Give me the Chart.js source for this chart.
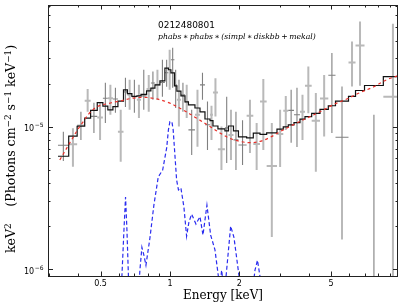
<!DOCTYPE html>
<html><head><meta charset="utf-8">
<script src="https://cdn.jsdelivr.net/npm/chart.js@4.4.1/dist/chart.umd.min.js"></script>
<style>html,body{margin:0;padding:0;background:#fff;}</style>
</head><body>
<canvas id="c" width="407" height="307"></canvas>
<script>
// ---- data (energy in keV, flux in keV^2 Photons cm^-2 s^-1 keV^-1) ----
const binEdges = [0.327,0.364,0.396,0.427,0.453,0.484,0.512,0.538,0.566,0.595,0.629,0.654,0.684,0.719,0.749,0.792,0.827,0.861,0.905,0.951,0.985,1.010,1.046,1.072,1.116,1.162,1.203,1.284,1.350,1.419,1.492,1.537,1.615,1.732,1.794,1.886,1.982,2.151,2.299,2.458,2.627,2.912,3.101,3.260,3.451,3.664,3.852,4.118,4.475,4.862,5.224,5.948,6.380,6.979,8.422,10.2];
const modelFlux = [6.20e-6,8.57e-6,1.006e-5,1.145e-5,1.30e-5,1.47e-5,1.39e-5,1.31e-5,1.38e-5,1.51e-5,1.81e-5,1.70e-5,1.63e-5,1.64e-5,1.68e-5,1.78e-5,1.86e-5,1.96e-5,2.09e-5,2.57e-5,2.50e-5,2.38e-5,1.93e-5,1.77e-5,1.64e-5,1.49e-5,1.42e-5,1.35e-5,1.27e-5,1.13e-5,1.10e-5,1.01e-5,9.64e-6,9.33e-6,1.01e-5,9.33e-6,8.47e-6,8.33e-6,8.99e-6,8.82e-6,9.03e-6,9.59e-6,9.95e-6,1.028e-5,1.067e-5,1.127e-5,1.175e-5,1.238e-5,1.32e-5,1.40e-5,1.51e-5,1.63e-5,1.79e-5,1.94e-5,2.24e-5];
const pointFlux = [7.41e-6,7.53e-6,1.02e-5,1.52e-5,1.18e-5,1.16e-5,1.58e-5,1.58e-5,1.56e-5,9.22e-6,1.75e-5,1.67e-5,1.62e-5,1.54e-5,1.64e-5,1.83e-5,2.02e-5,1.96e-5,2.04e-5,2.38e-5,2.50e-5,2.94e-5,1.96e-5,1.54e-5,1.67e-5,1.49e-5,9.48e-6,1.21e-5,1.96e-5,1.03e-5,1.21e-5,1.73e-5,6.94e-6,9.79e-6,8.75e-6,8.07e-6,7.44e-6,1.19e-5,7.56e-6,1.50e-5,5.30e-6,8.89e-6,1.29e-5,1.30e-5,1.21e-5,1.27e-5,1.93e-5,1.10e-5,1.57e-5,2.29e-5,8.43e-6,2.81e-5,3.70e-5,6.0e-7,1.62e-5];
const pointHigh = [9.22e-6,9.74e-6,1.27e-5,1.83e-5,1.47e-5,1.47e-5,2.03e-5,1.96e-5,1.87e-5,1.31e-5,2.20e-5,2.13e-5,2.13e-5,1.96e-5,2.50e-5,2.30e-5,2.43e-5,2.50e-5,2.94e-5,2.94e-5,3.45e-5,3.56e-5,2.50e-5,2.13e-5,2.03e-5,1.96e-5,1.31e-5,1.81e-5,2.38e-5,1.50e-5,1.40e-5,2.18e-5,1.00e-5,1.62e-5,1.31e-5,1.27e-5,1.11e-5,1.54e-5,1.06e-5,2.15e-5,1.06e-5,1.31e-5,1.64e-5,1.81e-5,1.87e-5,1.67e-5,2.64e-5,1.72e-5,2.30e-5,3.27e-5,1.91e-5,3.95e-5,5.45e-5,1.21e-5,5.25e-5];
const pointLow = [5.75e-6,5.24e-6,8.07e-6,1.27e-5,9.03e-6,8.07e-6,1.06e-5,1.21e-5,1.25e-5,5.68e-6,1.37e-5,1.31e-5,1.25e-5,1.15e-5,1.31e-5,1.27e-5,1.54e-5,1.54e-5,1.62e-5,1.90e-5,1.81e-5,1.87e-5,1.35e-5,1.00e-5,1.27e-5,1.15e-5,6.33e-6,7.24e-6,1.54e-5,6.86e-6,8.07e-6,1.175e-5,4.97e-6,5.56e-6,5.84e-6,4.97e-6,5.38e-6,6.54e-6,4.97e-6,6.86e-6,1.69e-6,5.22e-6,9.48e-6,7.72e-6,7.21e-6,8.07e-6,1.24e-5,4.84e-6,8.51e-6,9.03e-6,1.62e-6,1.91e-5,1.93e-5,5e-7,5e-7];
const pointGroup = ['D','L','D','L','D','L','D','L','D','L','D','L','D','L','D','L','D','L','D','D','L','D','D','L','D','L','D','L','D','D','L','L','L','D','L','D','D','L','L','L','L','L','L','D','D','L','L','L','L','D','D','L','L','D','L'];
const diskE = [0.333,0.3745,0.414,0.473,0.559,0.607,0.682,0.764,0.844,0.968,1.139,1.306,1.492,1.648,1.821,2.012,2.224,2.458,2.716,3.001,3.417,3.918,4.475,5.095,5.843,6.674,7.597,8.712,10.0];
const diskF = [5.84e-6,8.07e-6,1.045e-5,1.35e-5,1.47e-5,1.51e-5,1.577e-5,1.603e-5,1.58e-5,1.49e-5,1.31e-5,1.145e-5,1.003e-5,9.03e-6,8.27e-6,7.88e-6,7.72e-6,7.88e-6,8.40e-6,9.22e-6,1.028e-5,1.145e-5,1.27e-5,1.42e-5,1.56e-5,1.73e-5,1.889e-5,2.13e-5,2.30e-5];
const mekalE = [0.610,0.619,0.632,0.642,0.651,0.661,0.667,0.730,0.741,0.756,0.771,0.787,0.819,0.852,0.890,0.930,0.968,0.985,1.000,1.020,1.033,1.051,1.069,1.089,1.116,1.150,1.181,1.209,1.242,1.297,1.350,1.391,1.447,1.502,1.568,1.624,1.640,1.676,1.715,1.750,1.834,1.895,1.953,2.002,2.022,2.269,2.338,2.397,2.458,2.481];
const mekalF = [7.16e-7,8.92e-7,1.89e-6,3.21e-6,1.89e-6,8.82e-7,6.6e-7,6.6e-7,9.89e-7,1.43e-6,1.26e-6,1.07e-6,1.66e-6,2.82e-6,4.44e-6,4.97e-6,7.09e-6,9.48e-6,1.084e-5,1.079e-5,9.48e-6,6.33e-6,4.23e-6,3.60e-6,3.72e-6,2.73e-6,1.71e-6,2.15e-6,2.44e-6,2.08e-6,2.34e-6,1.74e-6,2.82e-6,1.74e-6,1.37e-6,8.82e-7,7.16e-7,9.89e-7,7.16e-7,8.82e-7,2.01e-6,1.68e-6,1.16e-6,8.53e-7,6.6e-7,6.6e-7,9.89e-7,1.16e-6,8.92e-7,6.6e-7];
// ticks and texts
const xLabelTicks = [0.5, 1, 2, 5];
const xLabelText = ['0.5', '1', '2', '5'];
const xMinorTicks = [0.3,0.4,0.6,0.7,0.8,0.9,3,4,6,7,8,9];
const yLabelTicks = [1e-6, 1e-5];
const yLabelBase = ['10', '10'];
const yLabelExp = ['\u22126', '\u22125'];
const yMinorTicks = [2e-6,3e-6,4e-6,5e-6,6e-6,7e-6,8e-6,9e-6,2e-5,3e-5,4e-5,5e-5,6e-5,7e-5];
const obsId = '0212480801';
const modelName = 'phabs\u2009\u2217\u2009phabs\u2009\u2217\u2009(simpl\u2009\u2217\u2009diskbb\u2009+\u2009mekal)';
const xTitle = 'Energy [keV]';
// y title as runs: [text, isSuperscript]
const yTitleRuns = [['keV', 0], ['2', 1], ['\u2003 ', 0], ['(Photons cm', 0], ['\u22122', 1], [' s', 0], ['\u22121', 1], [' keV', 0], ['\u22121', 1], [')', 0]];

// ---- build datasets ----
const stepData = binEdges.map((e, i) => ({x: e, y: modelFlux[Math.min(i, modelFlux.length - 1)]}));
const diskData = diskE.map((e, i) => ({x: e, y: diskF[i]}));
const mekalData = mekalE.map((e, i) => ({x: e, y: mekalF[i]}));

const errorBars = {
  id: 'errorBars',
  beforeDatasetsDraw(chart) {
    const {ctx, chartArea: ca} = chart;
    const xs = chart.scales.x, ys = chart.scales.y;
    ctx.save();
    ctx.beginPath(); ctx.rect(ca.left, ca.top, ca.width, ca.height); ctx.clip();
    for (let i = 0; i < pointFlux.length; i++) {
      const light = pointGroup[i] === 'L';
      ctx.strokeStyle = light ? '#b9b9b9' : '#808080';
      ctx.lineWidth = light ? 2 : 1.1;
      const xl = xs.getPixelForValue(binEdges[i]);
      const xr = xs.getPixelForValue(binEdges[i + 1]);
      const xc = xs.getPixelForValue(Math.sqrt(binEdges[i] * binEdges[i + 1]));
      const yc = ys.getPixelForValue(pointFlux[i]);
      const yt = ys.getPixelForValue(pointHigh[i]);
      const yb = ys.getPixelForValue(pointLow[i]);
      ctx.beginPath();
      ctx.moveTo(xl, yc); ctx.lineTo(xr, yc);
      ctx.moveTo(xc, yt); ctx.lineTo(xc, yb);
      ctx.stroke();
    }
    ctx.restore();
  }
};

const frameTicks = {
  id: 'frameTicks',
  afterDraw(chart) {
    const {ctx, chartArea: ca} = chart;
    const xs = chart.scales.x, ys = chart.scales.y;
    ctx.save();
    ctx.strokeStyle = '#222';
    ctx.lineWidth = 1;
    ctx.beginPath();
    const tick = (vals, len, horiz) => {
      vals.forEach(v => {
        if (horiz) {
          const p = Math.round(xs.getPixelForValue(v)) + 0.5;
          ctx.moveTo(p, ca.bottom); ctx.lineTo(p, ca.bottom - len);
          ctx.moveTo(p, ca.top); ctx.lineTo(p, ca.top + len);
        } else {
          const p = Math.round(ys.getPixelForValue(v)) + 0.5;
          ctx.moveTo(ca.left, p); ctx.lineTo(ca.left + len, p);
          ctx.moveTo(ca.right, p); ctx.lineTo(ca.right - len, p);
        }
      });
    };
    tick(xLabelTicks, 4.5, true);
    tick(xMinorTicks, 2.5, true);
    tick(yLabelTicks, 5, false);
    tick(yMinorTicks, 2.5, false);
    ctx.stroke();
    ctx.strokeRect(Math.round(ca.left) + 0.5, Math.round(ca.top) + 0.5, Math.round(ca.width) - 1, Math.round(ca.height));

    ctx.fillStyle = '#000';
    // y tick labels: 10 with superscript exponent
    ctx.textBaseline = 'alphabetic';
    yLabelTicks.forEach((v, i) => {
      const p = ys.getPixelForValue(v);
      ctx.font = '6px "DejaVu Sans"';
      const we = ctx.measureText(yLabelExp[i]).width;
      ctx.textAlign = 'right';
      ctx.fillText(yLabelExp[i], ca.left - 4.5, p + 0.5);
      ctx.font = '8px "DejaVu Sans"';
      ctx.fillText(yLabelBase[i], ca.left - 4.5 - we - 0.5, p + 4.3);
    });

    // y axis title (rotated, mixed sizes)
    ctx.save();
    ctx.translate(11, 149);
    ctx.rotate(-Math.PI / 2);
    const base = 12.6, sup = 8.8;
    let total = 0;
    yTitleRuns.forEach(([t, s]) => { ctx.font = (s ? sup : base) + 'px "DejaVu Serif"'; total += ctx.measureText(t).width; });
    let xpos = -total / 2;
    ctx.textAlign = 'left';
    ctx.textBaseline = 'alphabetic';
    yTitleRuns.forEach(([t, s]) => {
      ctx.font = (s ? sup : base) + 'px "DejaVu Serif"';
      ctx.fillText(t, xpos, s ? -0.5 : 4.3);
      xpos += ctx.measureText(t).width;
    });
    ctx.restore();

    // annotations inside the plot
    ctx.textAlign = 'left';
    ctx.textBaseline = 'alphabetic';
    ctx.font = '10px "DejaVu Sans"';
    let w = ctx.measureText(obsId).width;
    ctx.font = (10 * 57 / w).toFixed(2) + 'px "DejaVu Sans"';
    ctx.fillText(obsId, ca.left + 110, ca.top + 22.5);
    ctx.font = 'italic 10px "DejaVu Serif"';
    w = ctx.measureText(modelName).width;
    ctx.font = 'italic ' + (10 * 158 / w).toFixed(2) + 'px "DejaVu Serif"';
    ctx.fillText(modelName, ca.left + 110, ca.top + 34);
    ctx.restore();
  }
};

new Chart(document.getElementById('c'), {
  type: 'line',
  data: {
    datasets: [
      {label: 'model', data: stepData, stepped: 'before', borderColor: '#111', borderWidth: 1.2, pointRadius: 0, fill: false, order: 1},
      {label: 'diskbb', data: diskData, borderColor: '#e8302a', borderWidth: 1.2, borderDash: [3, 3], pointRadius: 0, tension: 0.35, fill: false, order: 0},
      {label: 'mekal', data: mekalData, borderColor: '#2a2cf0', borderWidth: 1.2, borderDash: [4, 2.5], pointRadius: 0, tension: 0, fill: false, order: 2}
    ]
  },
  options: {
    responsive: false,
    animation: false,
    devicePixelRatio: 1,
    layout: {padding: {top: 5, right: 9, left: 0, bottom: 0}},
    plugins: {legend: {display: false}, tooltip: {enabled: false}},
    scales: {
      x: {
        type: 'logarithmic', min: 0.296, max: 9.75,
        grid: {display: false, drawTicks: false}, border: {display: false},
        afterBuildTicks: (s) => { s.ticks = xLabelTicks.map(v => ({value: v})); },
        ticks: {callback: (v, i) => xLabelText[i], font: {family: 'DejaVu Sans', size: 8}, color: '#000', padding: 3, maxRotation: 0, autoSkip: false},
        title: {display: true, text: xTitle, font: {family: 'DejaVu Serif', size: 12}, color: '#000', padding: {top: 4, bottom: 4}},
        afterFit: (s) => { s.height = 31; }
      },
      y: {
        type: 'logarithmic', min: 9.0e-7, max: 7.1e-5,
        grid: {display: false, drawTicks: false}, border: {display: false},
        afterBuildTicks: (s) => { s.ticks = yLabelTicks.map(v => ({value: v})); },
        ticks: {display: false},
        afterFit: (s) => { s.width = 48; }
      }
    }
  },
  plugins: [errorBars, frameTicks]
});
</script>
</body></html>
